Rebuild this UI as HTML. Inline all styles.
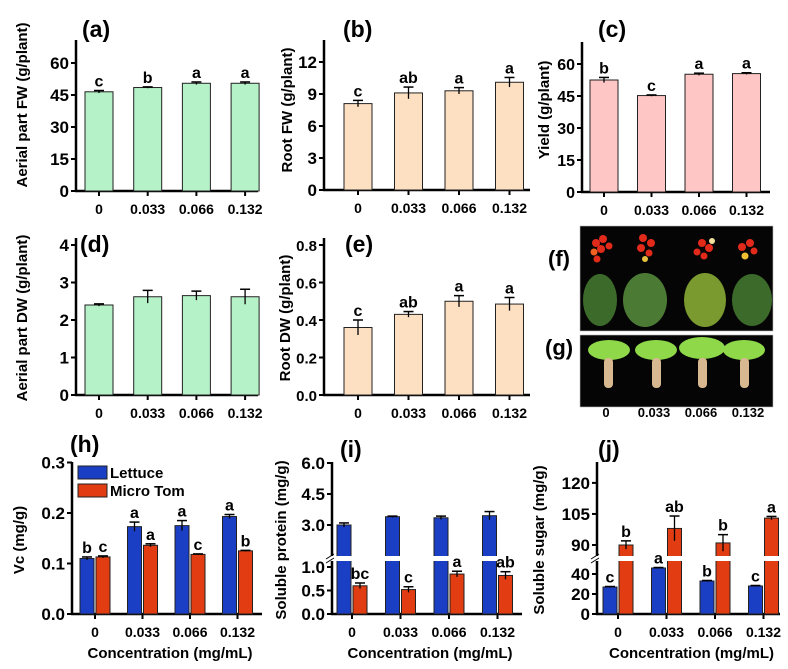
<!DOCTYPE html>
<html><head><meta charset="utf-8">
<style>
html,body{margin:0;padding:0;background:#fff;}
svg{display:block;font-family:"Liberation Sans",Arial,sans-serif;font-weight:bold;}
</style></head>
<body>
<svg id="fig" width="788" height="669" viewBox="0 0 788 669" xmlns="http://www.w3.org/2000/svg">
  <g>
    <rect x="580" y="226" width="193" height="105" fill="#050505" stroke="#bbb" stroke-width="0.6"/>
    <g fill="#e22a1a">
      <circle cx="596" cy="243" r="4"/><circle cx="603" cy="239" r="4"/><circle cx="601" cy="249" r="4"/><circle cx="594" cy="252" r="3.5" fill="#f06020"/><circle cx="609" cy="246" r="3.5"/><circle cx="597" cy="259" r="3.5"/>
      <circle cx="643" cy="238" r="4"/><circle cx="651" cy="243" r="4"/><circle cx="641" cy="248" r="4"/><circle cx="649" cy="253" r="3.5"/><circle cx="645" cy="259" r="3" fill="#e8c040"/>
      <circle cx="702" cy="243" r="4"/><circle cx="709" cy="248" r="4"/><circle cx="697" cy="252" r="3.5"/><circle cx="704" cy="256" r="3.5"/><circle cx="712" cy="241" r="3" fill="#f0e0a0"/>
      <circle cx="742" cy="247" r="4"/><circle cx="750" cy="243" r="4"/><circle cx="754" cy="251" r="3.5"/><circle cx="745" cy="256" r="3.5" fill="#f0c030"/>
    </g>
    <g fill="#3c6a2a">
      <ellipse cx="600" cy="300" rx="17" ry="26"/><ellipse cx="645" cy="300" rx="22" ry="27" fill="#4b7a35"/>
      <ellipse cx="705" cy="300" rx="21" ry="27" fill="#7a9a30"/><ellipse cx="752" cy="300" rx="20" ry="26"/>
    </g>
  </g>
  <g>
    <rect x="580" y="335" width="193" height="72" fill="#050505" stroke="#bbb" stroke-width="0.6"/>
    <g fill="#8ed84a">
      <ellipse cx="609" cy="350" rx="21" ry="10"/><ellipse cx="656" cy="350" rx="21" ry="10"/><ellipse cx="702" cy="348" rx="23" ry="11"/><ellipse cx="744" cy="350" rx="21" ry="10"/>
    </g>
    <g fill="#d8b890">
      <rect x="604" y="358" width="9" height="30" rx="4"/><rect x="652" y="358" width="9" height="30" rx="4"/><rect x="698" y="358" width="9" height="30" rx="4"/><rect x="740" y="358" width="9" height="30" rx="4"/>
    </g>
  </g>
  <text x="548" y="266" font-size="22">(f)</text>
  <text x="545" y="355" font-size="22">(g)</text>
  <g font-size="13" text-anchor="middle">
    <text x="606" y="417">0</text><text x="654" y="417">0.033</text><text x="701" y="417">0.066</text><text x="748" y="417">0.132</text>
  </g>
</svg>
<script>
const categories = ["0","0.033","0.066","0.132"];
const aVals = [46.5, 48.5, 50.5, 50.5];
const aErr = [0.6, 0.3, 0.6, 0.6];
const aLetters = ["c","b","a","a"];
const bVals = [8.1, 9.1, 9.3, 10.1];
const bErr = [0.3, 0.55, 0.3, 0.45];
const bLetters = ["c","ab","a","a"];
const cVals = [52.5, 45.2, 55.2, 55.5];
const cErr = [1.2, 0.3, 0.5, 0.4];
const cLetters = ["b","c","a","a"];
const dVals = [2.4, 2.62, 2.65, 2.62];
const dErr = [0.03, 0.17, 0.12, 0.2];
const eVals = [0.36, 0.43, 0.5, 0.485];
const eErr = [0.04, 0.015, 0.03, 0.035];
const eLetters = ["c","ab","a","a"];
const hLettuce = [0.11, 0.173, 0.175, 0.193];
const hLettuceErr = [0.003, 0.009, 0.01, 0.004];
const hMicro = [0.113, 0.136, 0.118, 0.125];
const hMicroErr = [0.002, 0.003, 0.001, 0.001];
const hLettuceLetters = ["b","a","a","a"];
const hMicroLetters = ["c","a","c","b"];
const iLettuce = [3.0, 3.4, 3.35, 3.45];
const iLettuceErr = [0.1, 0.03, 0.08, 0.2];
const iMicro = [0.6, 0.52, 0.85, 0.82];
const iMicroErr = [0.06, 0.06, 0.06, 0.08];
const iMicroLetters = ["bc","c","a","ab"];
const jLettuce = [27, 46, 33, 28];
const jLettuceErr = [0.5, 0.5, 0.5, 0.5];
const jMicro = [90, 98, 91, 103];
const jMicroErr = [2, 6, 4, 0.8];
const jLettuceLetters = ["c","a","b","c"];
const jMicroLetters = ["b","ab","b","a"];
const aTicks = [0,15,30,45,60];
const bTicks = [0,3,6,9,12];
const dTicks = [0,1,2,3,4];
const eTicks = [0,0.2,0.4,0.6,0.8];
const eTickLabels = ["0.0","0.2","0.4","0.6","0.8"];
const hTicks = [0,0.1,0.2,0.3];
const hTickLabels = ["0.0","0.1","0.2","0.3"];
const iTicks = [0,0.5,1.0,3.0,4.5,6.0];
const iTickLabels = ["0.0","0.5","1.0","3.0","4.5","6.0"];
const jTicks = [0,20,40,90,105,120];
const jTickLabels = ["0","20","40","90","105","120"];

const svg = document.getElementById('fig');
const NS = "http://www.w3.org/2000/svg";
function mk(tag, attrs, parent){
  const e = document.createElementNS(NS, tag);
  for (const k in attrs) e.setAttribute(k, attrs[k]);
  (parent||svg).appendChild(e);
  return e;
}
function txt(str, attrs, parent){ const t = mk('text', attrs, parent); t.textContent = str; return t; }
function linear(base, ppu){ return v => base - v*ppu; }
function broken(base, lowPpu, lowMax, upRefV, upRefY, upPpu, upMin){
  return v => v <= lowMax ? base - v*lowPpu : (v < upMin ? base - lowMax*lowPpu : upRefY - (v-upRefV)*upPpu);
}
function panel(p){
  const g = mk('g', {});
  
  
  const xOf = i => p.x0 + p.step*i;
  const ax = mk('line', {x1:p.ax, y1:p.top, x2:p.ax, y2:p.base, stroke:'#000','stroke-width':2.5}, g);
  
  
  const xa = mk('line', {x1:p.ax-1, y1:p.base, x2:p.axEnd, y2:p.base, stroke:'#000','stroke-width':2.5}, g);
  
  
  p.ticks.forEach((t,k)=>{
    const y = p.y(t);
    mk('line',{x1:p.ax-5,y1:y,x2:p.ax,y2:y,stroke:'#000','stroke-width':2},g);
    const tl = txt(p.tickLabels ? p.tickLabels[k] : String(t), {x:p.ax-7, y:y+6, 'font-size':p.tickFs||17, 'text-anchor':'end'}, g);
    
    
  });
  if (p.breakY){
    mk('rect',{x:p.ax-6,y:p.breakY-2,width:8,height:5,fill:'#fff'},g);
    mk('line',{x1:p.ax-6,y1:p.breakY+1,x2:p.ax+2,y2:p.breakY-4,stroke:'#000','stroke-width':1},g);
    mk('line',{x1:p.ax-6,y1:p.breakY+5,x2:p.ax+2,y2:p.breakY,stroke:'#000','stroke-width':1},g);
  }
  categories.forEach((c,i)=>{
    const cx = xOf(i);
    mk('line',{x1:cx,y1:p.base,x2:cx,y2:p.base+5,stroke:'#000','stroke-width':2},g);
    const lab = txt(c,{x:cx,y:p.base+23,'font-size':14,'text-anchor':'middle'},g);
    
    
  });
  p.series.forEach(s=>{
    s.vals.forEach((v,i)=>{
      const cx = xOf(i) + s.off;
      const y = p.y(v);
      const r = mk('rect',{x:cx-s.w/2,y:y,width:s.w,height:p.base-y,fill:s.fill,stroke:'#222','stroke-width':1},g);
      
      
      if (p.breakY && v > 1e-9 && y < p.breakY){
        mk('rect',{x:cx-s.w/2-1,y:p.breakY-2,width:s.w+2,height:5,fill:'#fff'},g);
      }
      const ey1 = p.y(v + s.err[i]), ey2 = p.y(v - s.err[i]);
      mk('line',{x1:cx,y1:ey1,x2:cx,y2:ey2,stroke:'#000','stroke-width':1.3},g);
      mk('line',{x1:cx-5,y1:ey1,x2:cx+5,y2:ey1,stroke:'#000','stroke-width':1.5},g);
      if (s.letters){
        const l = txt(s.letters[i],{x:cx,y:ey1-4,'font-size':16,'text-anchor':'middle'},g);
        
        
      }
    });
  });
  const t = txt(p.label,{x:p.lx,y:p.ly,'font-size':23},g);
  
  
  const yt = txt(p.ytitle,{x:0,y:0,'font-size':15,'text-anchor':'middle',transform:`translate(${p.ytx},${p.yty}) rotate(-90)`},g);
  
  
  if (p.xtitle){
    const xt = txt(p.xtitle,{x:(p.ax+p.axEnd)/2+3,y:p.base+44,'font-size':15,'text-anchor':'middle'},g);
    
    
  }
  return g;
}
const GREEN='#b5f2c8', PEACH='#fde0c2', PINK='#ffc6c6', BLUE='#1b3fc4', RED='#e23c12';

panel({name:'panel-a-aerial-fw',label:'(a)',lx:82,ly:37,ax:76,axEnd:258,top:40,base:191,y:linear(191,32/15),ticks:aTicks,
  x0:99,step:48.7,ytitle:'Aerial part FW (g/plant)',ytx:27,yty:105,
  series:[{name:'aerial-fw',vals:aVals,err:aErr,letters:aLetters,fill:GREEN,w:28,off:0}]});
panel({name:'panel-b-root-fw',label:'(b)',lx:343,ly:37,ax:324,axEnd:530,top:40,base:190,y:linear(190,32/3),ticks:bTicks,
  x0:358,step:50.5,ytitle:'Root FW (g/plant)',ytx:292,yty:110,
  series:[{name:'root-fw',vals:bVals,err:bErr,letters:bLetters,fill:PEACH,w:28,off:0}]});
panel({name:'panel-c-yield',label:'(c)',lx:598,ly:37,ax:582,axEnd:770,top:42,base:192,y:linear(192,32/15),ticks:aTicks,tickFs:16,
  x0:604,step:47.5,ytitle:'Yield (g/plant)',ytx:549,yty:110,
  series:[{name:'yield',vals:cVals,err:cErr,letters:cLetters,fill:PINK,w:28,off:0}]});
panel({name:'panel-d-aerial-dw',label:'(d)',lx:80,ly:252,ax:76,axEnd:258,top:238,base:395,y:linear(395,37.5),ticks:dTicks,
  x0:99,step:48.7,ytitle:'Aerial part DW (g/plant)',ytx:27,yty:318,
  series:[{name:'aerial-dw',vals:dVals,err:dErr,letters:null,fill:GREEN,w:28,off:0}]});
panel({name:'panel-e-root-dw',label:'(e)',lx:345,ly:252,ax:324,axEnd:530,top:238,base:395,y:linear(395,187.5),ticks:eTicks,tickLabels:eTickLabels,tickFs:15,
  x0:358,step:50.5,ytitle:'Root DW (g/plant)',ytx:290,yty:318,
  series:[{name:'root-dw',vals:eVals,err:eErr,letters:eLetters,fill:PEACH,w:28,off:0}]});
panel({name:'panel-h-vc',label:'(h)',lx:70,ly:452,ax:72,axEnd:262,top:462,base:614,y:linear(614,505),ticks:hTicks,tickLabels:hTickLabels,
  x0:95,step:47.5,ytitle:'Vc (mg/g)',ytx:24,yty:540,xtitle:'Concentration (mg/mL)',
  series:[{name:'lettuce',vals:hLettuce,err:hLettuceErr,letters:hLettuceLetters,fill:BLUE,w:14,off:-8},
          {name:'micro-tom',vals:hMicro,err:hMicroErr,letters:hMicroLetters,fill:RED,w:14,off:8}]});
panel({name:'panel-i-soluble-protein',label:'(i)',lx:340,ly:457,ax:332,axEnd:522,top:462,base:614,
  y:broken(614,47,1.15,3.0,525,20.67,1.5),breakY:558,ticks:iTicks,tickLabels:iTickLabels,
  x0:352,step:48.5,ytitle:'Soluble protein (mg/g)',ytx:286,yty:540,xtitle:'Concentration (mg/mL)',
  series:[{name:'lettuce',vals:iLettuce,err:iLettuceErr,letters:null,fill:BLUE,w:14,off:-8},
          {name:'micro-tom',vals:iMicro,err:iMicroErr,letters:iMicroLetters,fill:RED,w:14,off:8}]});
panel({name:'panel-j-soluble-sugar',label:'(j)',lx:598,ly:457,ax:597,axEnd:780,top:462,base:614,
  y:broken(614,1.0,56,90,545,2.07,84),breakY:558,ticks:jTicks,tickLabels:jTickLabels,
  x0:618,step:48.5,ytitle:'Soluble sugar (mg/g)',ytx:544,yty:540,xtitle:'Concentration (mg/mL)',
  series:[{name:'lettuce',vals:jLettuce,err:jLettuceErr,letters:jLettuceLetters,fill:BLUE,w:14,off:-8},
          {name:'micro-tom',vals:jMicro,err:jMicroErr,letters:jMicroLetters,fill:RED,w:14,off:8}]});

const lg = mk('g',{});


mk('rect',{x:78,y:466,width:29,height:13,fill:BLUE,stroke:'#222','stroke-width':1},lg);
const l1 = txt('Lettuce',{x:110,y:478,'font-size':15},lg);


mk('rect',{x:78,y:484,width:29,height:13,fill:RED,stroke:'#222','stroke-width':1},lg);
const l2 = txt('Micro Tom',{x:110,y:496,'font-size':15},lg);


</script>
</body></html>
